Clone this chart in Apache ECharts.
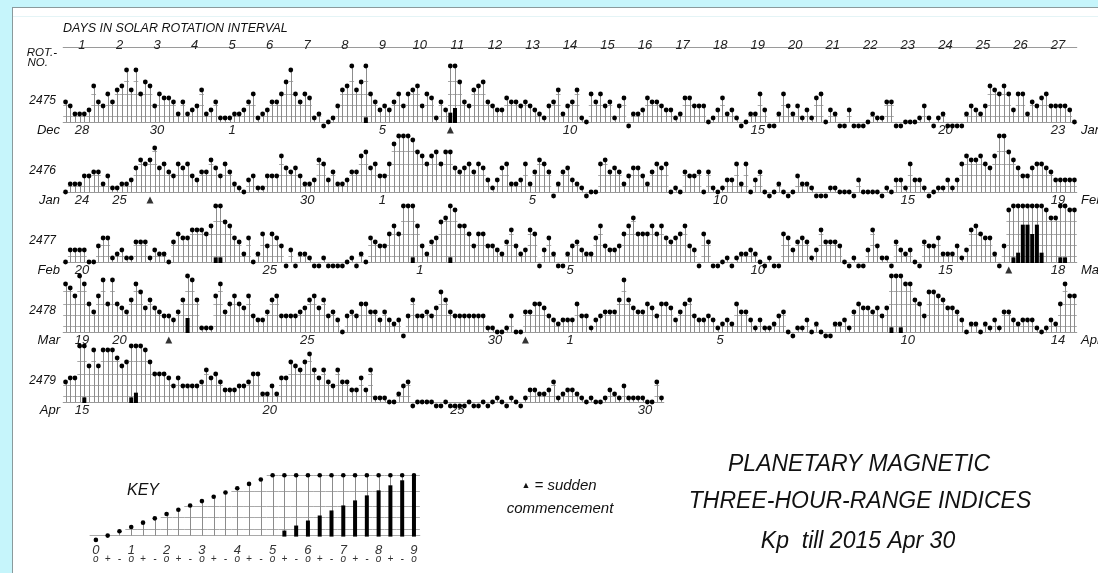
<!DOCTYPE html>
<html><head><meta charset="utf-8">
<script src="https://cdn.jsdelivr.net/npm/echarts/dist/echarts.min.js"></script>
<style>
html,body{margin:0;padding:0;background:#c6f5fb;overflow:hidden;}
#panel{position:absolute;left:12px;top:7px;width:1086px;height:566px;background:#fff;border-top:1px solid #8a9a9c;border-left:1px solid #8a9a9c;box-sizing:border-box;}
#panel:after{content:'';position:absolute;left:0;right:0;top:8px;border-top:1px solid #e4f4f6;}
#c{position:absolute;left:0;top:0;width:1098px;height:573px;}
</style></head>
<body><div id="panel"></div><div id="c"></div>
<script>
// ---------------- data ----------------
const rotations = ['2475', '2476', '2477', '2478', '2479'];
const monthLeft = ['Dec', 'Jan', 'Feb', 'Mar', 'Apr'];
const monthRight = ['Jan', 'Feb', 'Mar', 'Apr', ''];
const dayNumbers = ['1','2','3','4','5','6','7','8','9','10','11','12','13','14','15','16','17','18','19','20','21','22','23','24','25','26','27'];
const dates2475 = ['28','','30','','1','','','','5','','','','','10','','','','','15','','','','','20','','','23'];
const dates2476 = ['24','25','','','','','30','','1','','','','5','','','','','10','','','','','15','','','','19'];
const dates2477 = ['20','','','','','25','','','','1','','','','5','','','','','10','','','','','15','','','18'];
const dates2478 = ['19','20','','','','','25','','','','','30','','1','','','','5','','','','','10','','','','14'];
const dates2479 = ['15','','','','','20','','','','','25','','','','','30'];

// Kp in thirds: 0 = 0o, 1 = 0+, 2 = 1-, 3 = 1o ... 27 = 9o ; 8 values per day
const kp2475 = [
 6,5,3,3,3,4,10,6,  5,8,6,9,10,14,9,14,  8,11,10,5,8,7,7,6,  3,6,3,4,5,9,3,4,  6,2,2,2,3,3,4,6,
 8,2,3,4,6,6,8,11,  14,8,6,8,7,2,3,0,  1,2,5,9,10,15,9,11,  16,8,6,4,5,4,6,8,  5,8,9,10,5,8,7,2,
 6,4,17,18,11,6,5,9,  10,11,6,5,4,4,7,6,  6,5,6,5,4,3,2,5,  6,9,3,5,6,9,2,1,  8,6,8,5,6,2,5,7,
 0,3,3,4,7,6,6,5,  4,4,2,3,7,7,5,5,  5,1,2,4,7,3,4,2,  0,1,3,3,8,4,0,0,  3,8,5,3,5,2,4,2,
 7,8,1,4,3,0,0,4,  0,0,0,1,3,2,2,6,  6,0,0,1,1,1,2,5,  2,0,2,3,0,0,0,0,  3,5,4,3,5,10,9,8,
 10,8,4,8,8,3,6,5,  7,8,5,5,5,5,4,1];
const kp2476 = [
 1,3,3,3,5,5,6,6,  3,5,2,2,3,3,4,7,  9,8,9,12,7,8,6,5,  8,7,8,5,4,6,6,9,  7,5,8,6,3,2,1,4,
 5,2,2,5,5,5,10,7,  6,7,5,3,3,4,9,8,  4,6,3,3,4,6,6,10,  11,7,8,5,5,8,13,15,  15,15,14,11,10,8,10,11,
 8,11,11,7,6,7,8,6,  8,7,4,2,4,7,8,3,  3,4,8,3,6,9,8,6,  0,3,6,7,4,3,2,0,  1,1,8,9,6,7,6,3,
 5,7,7,5,3,6,8,7,  8,1,2,1,6,5,5,6,  1,6,2,1,2,4,4,8,  3,8,1,4,6,1,0,1,  3,1,0,1,5,3,3,2,
 0,0,0,2,2,1,1,1,  0,4,1,1,1,1,0,2,  1,4,4,2,8,4,4,2,  0,1,2,2,4,2,4,8,  10,9,9,10,8,7,10,15,
 15,11,9,7,5,5,7,8,  8,7,6,4,4,4,4,4];
const kp2477 = [
 1,4,4,4,4,1,1,5,  7,7,2,3,4,2,2,6,  6,6,2,4,3,3,1,6,  8,7,7,9,9,9,8,10,  16,16,11,10,7,6,3,7,
 1,3,8,5,8,7,5,0,  4,0,3,3,2,0,0,2,  0,0,0,0,1,2,0,3,  1,7,6,5,5,8,10,8,  15,15,16,10,5,3,6,7,
 11,12,16,14,10,10,8,5,  8,8,5,5,4,3,6,9,  5,3,4,9,8,0,4,7,  3,0,0,3,5,6,4,3,  3,7,10,5,4,4,5,8,
 10,12,8,8,8,10,8,10,  7,6,7,8,10,5,4,0,  8,6,0,0,1,2,0,2,  3,3,4,3,1,0,2,0,  0,8,7,4,6,7,6,2,
 4,9,6,6,6,5,1,0,  2,0,0,4,9,5,2,2,  0,6,4,3,4,1,0,6,  5,5,7,3,3,3,5,2,  4,9,10,8,7,7,3,0,
 5,14,16,17,23,23,21,23,  17,14,12,12,16,16,14,14];
const kp2478 = [
 13,12,10,15,13,8,6,10,  14,8,14,8,7,6,9,13,  11,7,9,7,6,5,5,4,  6,9,18,14,9,2,2,2,  10,13,6,8,10,8,7,10,
 5,4,4,6,9,10,5,5,  5,5,6,7,9,10,7,9,  5,6,4,1,5,6,5,8,  8,6,6,4,6,4,3,4,  0,5,9,5,5,6,5,7,
 11,9,6,5,5,5,5,5,  5,5,2,2,1,1,2,5,  1,1,6,6,8,8,7,5,  4,3,4,4,4,8,5,5,  2,4,5,6,6,6,9,14,
 9,7,6,6,8,7,5,8,  8,7,4,6,8,9,5,4,  4,5,4,2,3,4,3,8,  6,6,4,2,4,2,2,3,  5,6,1,0,2,2,4,1,
 3,1,0,0,3,3,4,2,  6,8,7,7,6,7,5,7,  16,15,16,13,13,9,8,5,  11,11,10,9,7,7,6,4,  1,3,3,1,3,2,4,2,
 6,6,4,3,4,4,4,2,  1,2,4,3,8,13,10,10];
const kp2479 = [
 6,7,7,15,16,10,14,10,  14,14,14,12,10,11,16,17,  15,14,11,8,8,8,7,5,  7,5,5,5,5,6,9,7,
 8,6,4,4,4,5,5,6,  8,8,3,3,5,3,7,7,  11,10,9,11,13,9,7,9,  6,5,9,6,6,4,4,7,
 4,9,2,2,2,1,1,3,  5,6,0,1,1,1,1,0,  0,1,0,0,0,0,1,0,  0,1,0,1,2,1,0,2,
 1,0,2,4,4,3,3,4,  6,2,3,4,4,3,2,1,  2,1,1,2,4,3,2,5,  2,2,2,2,1,1,6,2];
// sudden commencements: index of the 3-hour slot within the rotation
const ssc2475 = [82];
const ssc2476 = [18];
const ssc2477 = [201];
const ssc2478 = [22, 98];
const ssc2479 = [];
// key
const keyValues = [0,1,2,3,4,5,6,7,8,9,10,11,12,13,14,15,16,17,18,19,20,21,22,23,24,25,26,27];
const keyDigits = ['0','','','1','','','2','','','3','','','4','','','5','','','6','','','7','','','8','','','9'];
const keySigns = ['o','+','-','o','+','-','o','+','-','o','+','-','o','+','-','o','+','-','o','+','-','o','+','-','o','+','-','o'];

// ---------------- layout ----------------
const FONT = '"Liberation Sans", Arial, Helvetica, sans-serif';
const LEFT = 63.2, DAY_W = 37.54, BASE0 = 122, ROW_GAP = 70, UNIT = 4;
const TOPH = 14;                       // dot height of 5o
const LEVELS = [0, 1.5, 4.3, 6.9, 10.3, 14];
const rowsKp = [kp2475, kp2476, kp2477, kp2478, kp2479];
const rowsDates = [dates2475, dates2476, dates2477, dates2478, dates2479];
const rowsSsc = [ssc2475, ssc2476, ssc2477, ssc2478, ssc2479];

function makeRender(barW, dotR) {
  return function (params, api) {
    const i = api.value(0), t = api.value(1);
    const h = Math.min(t - 1, TOPH);
    const base = api.coord([i + 0.5, 0]);
    const top = api.coord([i + 0.5, h]);
    const sw = api.size([1, 0])[0];
    const u = api.size([0, 1])[1];
    const x = Math.round(base[0]) + 0.5;
    const ch = [];
    LEVELS.forEach(function (L) {
      if (L > 0 && L <= h + 0.01) {
        const y = Math.round(api.coord([0, L])[1]) + 0.5;
        ch.push({type: 'line', shape: {x1: base[0] - sw / 2, y1: y, x2: base[0] + sw / 2, y2: y},
          style: {stroke: '#a9a9a9', lineWidth: 1}});
      }
    });
    if (h > 0) ch.push({type: 'line', shape: {x1: x, y1: base[1], x2: x, y2: top[1]},
      style: {stroke: '#8c8c8c', lineWidth: 1}});
    if (t > 15) {
      const bh = (t - 15) * TOPH / 12 * u;
      ch.push({type: 'rect', shape: {x: base[0] - barW / 2, y: base[1] - bh, width: barW, height: bh + 1},
        style: {fill: '#000'}});
    }
    ch.push({type: 'circle', shape: {cx: base[0], cy: top[1], r: dotR}, style: {fill: '#000'}});
    return {type: 'group', children: ch};
  };
}

const grid = [], xAxis = [], yAxis = [], series = [];
// header grid
grid.push({left: LEFT, top: 37, width: 27 * DAY_W, height: 10});
xAxis.push({gridIndex: 0, type: 'category', data: dayNumbers, position: 'top',
  axisLine: {lineStyle: {color: '#9a9a9a', width: 1}},
  axisTick: {inside: true, length: 13, lineStyle: {color: '#9a9a9a'}},
  axisLabel: {inside: true, interval: 0, margin: 2, fontFamily: FONT, fontStyle: 'italic', fontSize: 13, color: '#222'}});
yAxis.push({gridIndex: 0, type: 'value', show: false});

rowsKp.forEach(function (kp, r) {
  const nDays = rowsDates[r].length;
  const base = BASE0 + r * ROW_GAP;
  const g = grid.length;
  grid.push({left: LEFT, top: base - 15 * UNIT, width: nDays * DAY_W, height: 15 * UNIT});
  const xv = xAxis.length;
  xAxis.push({gridIndex: g, type: 'value', min: 0, max: nDays * 8, show: false});
  xAxis.push({gridIndex: g, type: 'category', data: rowsDates[r], position: 'bottom',
    axisLine: {onZero: false, lineStyle: {color: '#9a9a9a', width: 1}},
    axisTick: {length: 5, lineStyle: {color: '#9a9a9a'}},
    axisLabel: {interval: 0, margin: 2, fontFamily: FONT, fontStyle: 'italic', fontSize: 13, color: '#222'}});
  const yi = yAxis.length;
  yAxis.push({gridIndex: g, type: 'value', min: 0, max: 15, show: false});
  series.push({type: 'custom', xAxisIndex: xv, yAxisIndex: yi, clip: false,
    data: kp.map(function (t, i) { return [i, t]; }), renderItem: makeRender(4, 2.4)});
  series.push({type: 'scatter', xAxisIndex: xv, yAxisIndex: yi, clip: false, symbol: 'triangle', symbolSize: 7,
    itemStyle: {color: '#000'}, data: rowsSsc[r].map(function (i) { return [i + 0.5, -2]; })});
});

// key grid
const KEY_SLOT = 11.78, KEY_BASE = 535.6, KEY_UNIT = 4.31;
const kg = grid.length;
grid.push({left: 95.9 - KEY_SLOT / 2, top: KEY_BASE - 15 * KEY_UNIT, width: 28 * KEY_SLOT, height: 15 * KEY_UNIT});
const kx = xAxis.length;
xAxis.push({gridIndex: kg, type: 'value', min: 0, max: 28, show: false});
xAxis.push({gridIndex: kg, type: 'category', data: keyDigits, position: 'bottom',
  axisLine: {onZero: false, lineStyle: {color: '#a9a9a9', width: 1}}, axisTick: {show: false},
  axisLabel: {interval: 0, margin: 8, fontFamily: FONT, fontStyle: 'italic', fontSize: 13, color: '#333'}});
xAxis.push({gridIndex: kg, type: 'category', data: keySigns, position: 'bottom', offset: 12,
  axisLine: {show: false}, axisTick: {show: false},
  axisLabel: {interval: 0, margin: 7, fontFamily: FONT, fontStyle: 'italic', fontSize: 10, color: '#333'}});
const ky = yAxis.length;
yAxis.push({gridIndex: kg, type: 'value', min: 0, max: 15, show: false});
series.push({type: 'custom', xAxisIndex: kx, yAxisIndex: ky, clip: false,
  data: keyValues.map(function (t, i) { return [i, t]; }), renderItem: makeRender(4, 2.3)});

// texts
const T = function (x, y, text, size, align, extra) {
  return Object.assign({type: 'text', x: x, y: y, silent: true,
    style: {text: text, font: 'italic ' + size + 'px ' + FONT, fill: '#111', textAlign: align || 'left', textVerticalAlign: 'middle'}}, extra || {});
};
const graphic = [];
graphic.push(T(63, 29, 'DAYS IN SOLAR ROTATION INTERVAL', 12.5));
graphic.push(T(57, 53, 'ROT.-', 11.5, 'right'));
graphic.push(T(48, 63, 'NO.', 11.5, 'right'));
rotations.forEach(function (rot, r) {
  const base = BASE0 + r * ROW_GAP;
  graphic.push(T(56, base - 21, rot, 12, 'right'));
  graphic.push(T(60, base + 8, monthLeft[r], 13, 'right'));
  if (monthRight[r]) graphic.push(T(1081, base + 8, monthRight[r], 13, 'left'));
});
graphic.push(T(127, 491, 'KEY', 16));
graphic.push({type: 'text', x: 559, y: 486, silent: true, style: {text: '{a|▲} = sudden',
  rich: {a: {fontSize: 9, fontFamily: FONT}}, font: 'italic 15px ' + FONT, fill: '#111',
  textAlign: 'center', textVerticalAlign: 'middle'}});
graphic.push(T(560, 509, 'commencement', 15, 'center'));
graphic.push(T(859, 465, 'PLANETARY MAGNETIC', 23, 'center'));
graphic.push(T(860, 502, 'THREE-HOUR-RANGE INDICES', 23, 'center'));
graphic.push(T(858, 542, 'Kp  till 2015 Apr 30', 23, 'center'));

const chart = echarts.init(document.getElementById('c'), null, {renderer: 'canvas'});
chart.setOption({animation: false, backgroundColor: 'transparent', grid: grid, xAxis: xAxis, yAxis: yAxis,
  series: series, graphic: graphic});
</script></body></html>
